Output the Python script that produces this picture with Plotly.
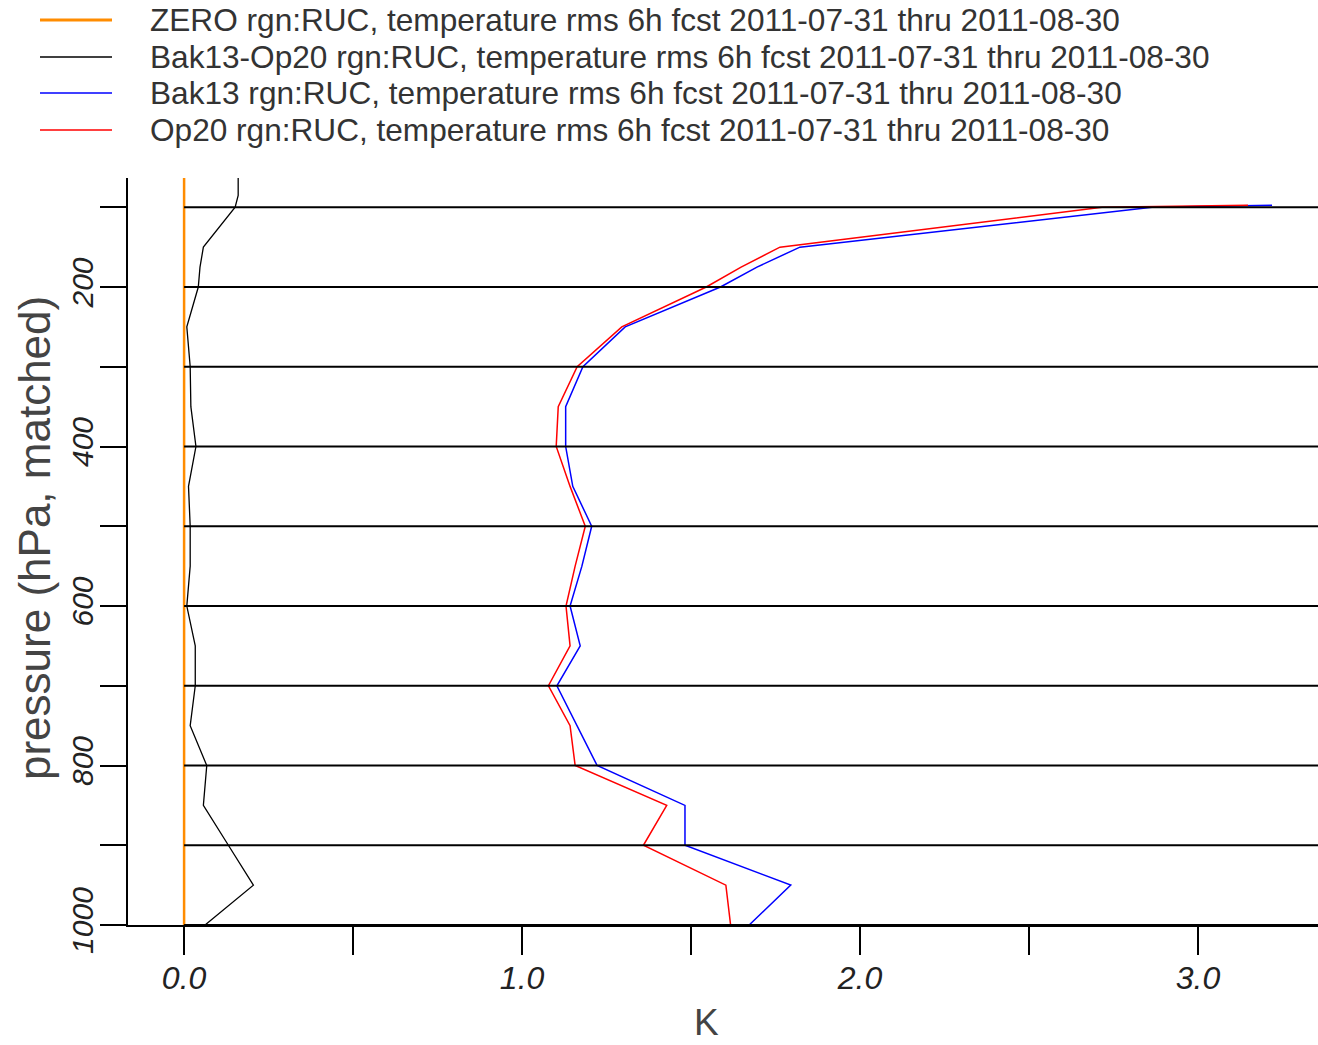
import plotly.graph_objects as go

# ---------------- data ----------------
series_names = [
    "ZERO rgn:RUC, temperature rms 6h fcst 2011-07-31 thru 2011-08-30",
    "Bak13-Op20 rgn:RUC, temperature rms 6h fcst 2011-07-31 thru 2011-08-30",
    "Bak13 rgn:RUC, temperature rms 6h fcst 2011-07-31 thru 2011-08-30",
    "Op20 rgn:RUC, temperature rms 6h fcst 2011-07-31 thru 2011-08-30",
]
series_colors = ["#FF8C00", "#000000", "#0000FF", "#FF0000"]
series_widths = [2.5, 1.3, 1.5, 1.5]

pressure_levels = [1000, 950, 900, 850, 800, 750, 700, 650, 600, 550, 500,
                   450, 400, 350, 300, 250, 200, 175, 150, 100, 97.5]
bak13_rms = [1.672, 1.795, 1.482, 1.482, 1.222, 1.162, 1.103, 1.172, 1.142, 1.177, 1.206,
             1.150, 1.129, 1.129, 1.180, 1.305, 1.587, 1.695, 1.822, 2.864, 3.219]
op20_rms = [1.617, 1.603, 1.359, 1.428, 1.157, 1.142, 1.078, 1.142, 1.130, 1.157, 1.187,
            1.142, 1.101, 1.107, 1.163, 1.295, 1.545, 1.648, 1.763, 2.716, 3.148]

diff_levels = [1000, 950, 900, 850, 800, 750, 700, 650, 600, 550, 500,
               450, 400, 350, 300, 250, 200, 175, 150, 100, 85, 50]
diff_rms = [0.062, 0.205, 0.131, 0.057, 0.067, 0.018, 0.033, 0.033, 0.008, 0.018, 0.018,
            0.013, 0.035, 0.020, 0.018, 0.008, 0.042, 0.047, 0.057, 0.151, 0.160, 0.160]

zero_levels = [1000, 50]
zero_rms = [0.0, 0.0]

x_tick_vals = [0.0, 0.5, 1.0, 1.5, 2.0, 2.5, 3.0]
x_tick_text = ["0.0", "", "1.0", "", "2.0", "", "3.0"]
y_tick_vals = [100, 200, 300, 400, 500, 600, 700, 800, 900, 1000]
y_tick_text = ["", "200", "", "400", "", "600", "", "800", "", "1000"]
x_range = [-0.166, 3.355]
y_range = [1000, 63.3]
x_title = "K"
y_title = "pressure (hPa, matched)"

# ---------------- figure ----------------
W, H = 1318, 1045
ML, MR, MT, MB = 128, 0, 178, 120
FONT = "Liberation Sans, Arial, Helvetica, sans-serif"

fig = go.Figure()
all_x = [zero_rms, diff_rms, bak13_rms, op20_rms]
all_y = [zero_levels, diff_levels, pressure_levels, pressure_levels]
for name, xs, ys, col, w in zip(series_names, all_x, all_y, series_colors, series_widths):
    fig.add_trace(go.Scatter(x=xs, y=ys, mode="lines", name=name,
                             line=dict(color=col, width=w), showlegend=False))

# horizontal pressure lines starting at x = 0
shapes = []
for lev in y_tick_vals:
    shapes.append(dict(type="line", xref="x", yref="y", x0=0, x1=x_range[1],
                       y0=lev, y1=lev, line=dict(color="black", width=1.8),
                       layer="above"))

plot_w = W - ML - MR
plot_h = H - MT - MB


def px_x(px):
    return (px - ML) / plot_w


def px_y(py):
    return (H - MB - py) / plot_h


# manual legend (sample lines + text)
legend_rows_px = [20, 57, 93, 130]
annotations = []
for name, col, w, ypx in zip(series_names, series_colors, series_widths, legend_rows_px):
    yp = px_y(ypx)
    shapes.append(dict(type="line", xref="paper", yref="paper",
                       x0=px_x(40), x1=px_x(112), y0=yp, y1=yp,
                       line=dict(color=col, width=3 if w > 2 else 1.5)))
    annotations.append(dict(xref="paper", yref="paper", x=px_x(148), y=yp,
                            xanchor="left", yanchor="middle", showarrow=False,
                            text=name, font=dict(family=FONT, size=31.6, color="#333333")))

# axis titles
annotations.append(dict(xref="paper", yref="paper", x=px_x(706), y=px_y(1044),
                        xanchor="center", yanchor="bottom", showarrow=False, borderpad=0,
                        text=x_title, font=dict(family=FONT, size=37, color="#444444")))
annotations.append(dict(xref="paper", yref="paper", x=px_x(34), y=px_y(538),
                        xanchor="center", yanchor="middle", showarrow=False, textangle=-90,
                        text=y_title, font=dict(family=FONT, size=44, color="#444444")))

fig.update_layout(
    width=W, height=H,
    margin=dict(l=ML, r=MR, t=MT, b=MB, pad=0),
    paper_bgcolor="white", plot_bgcolor="white",
    font=dict(family=FONT, color="#222222"),
    shapes=shapes, annotations=annotations,
    showlegend=False,
)
fig.update_xaxes(
    range=x_range, tickmode="array", tickvals=x_tick_vals, ticktext=x_tick_text,
    ticks="outside", ticklen=28, tickwidth=2, tickcolor="black", ticklabelstandoff=-4,
    showline=True, linewidth=2, linecolor="black", showgrid=False, zeroline=False,
    tickfont=dict(family=FONT, size=32, style="italic", color="#222222"),
)
fig.update_yaxes(
    range=y_range, tickmode="array", tickvals=y_tick_vals, ticktext=y_tick_text,
    ticks="outside", ticklen=26, tickwidth=2, tickcolor="black", tickangle=-90,
    ticklabelstandoff=-5,
    showline=True, linewidth=2, linecolor="black", showgrid=False, zeroline=False,
    tickfont=dict(family=FONT, size=30, style="italic", color="#222222"),
)

fig.write_html(
    "out.html",
    config={"displayModeBar": False},
    post_script="document.body.style.margin='0';document.body.style.overflow='hidden';",
)
